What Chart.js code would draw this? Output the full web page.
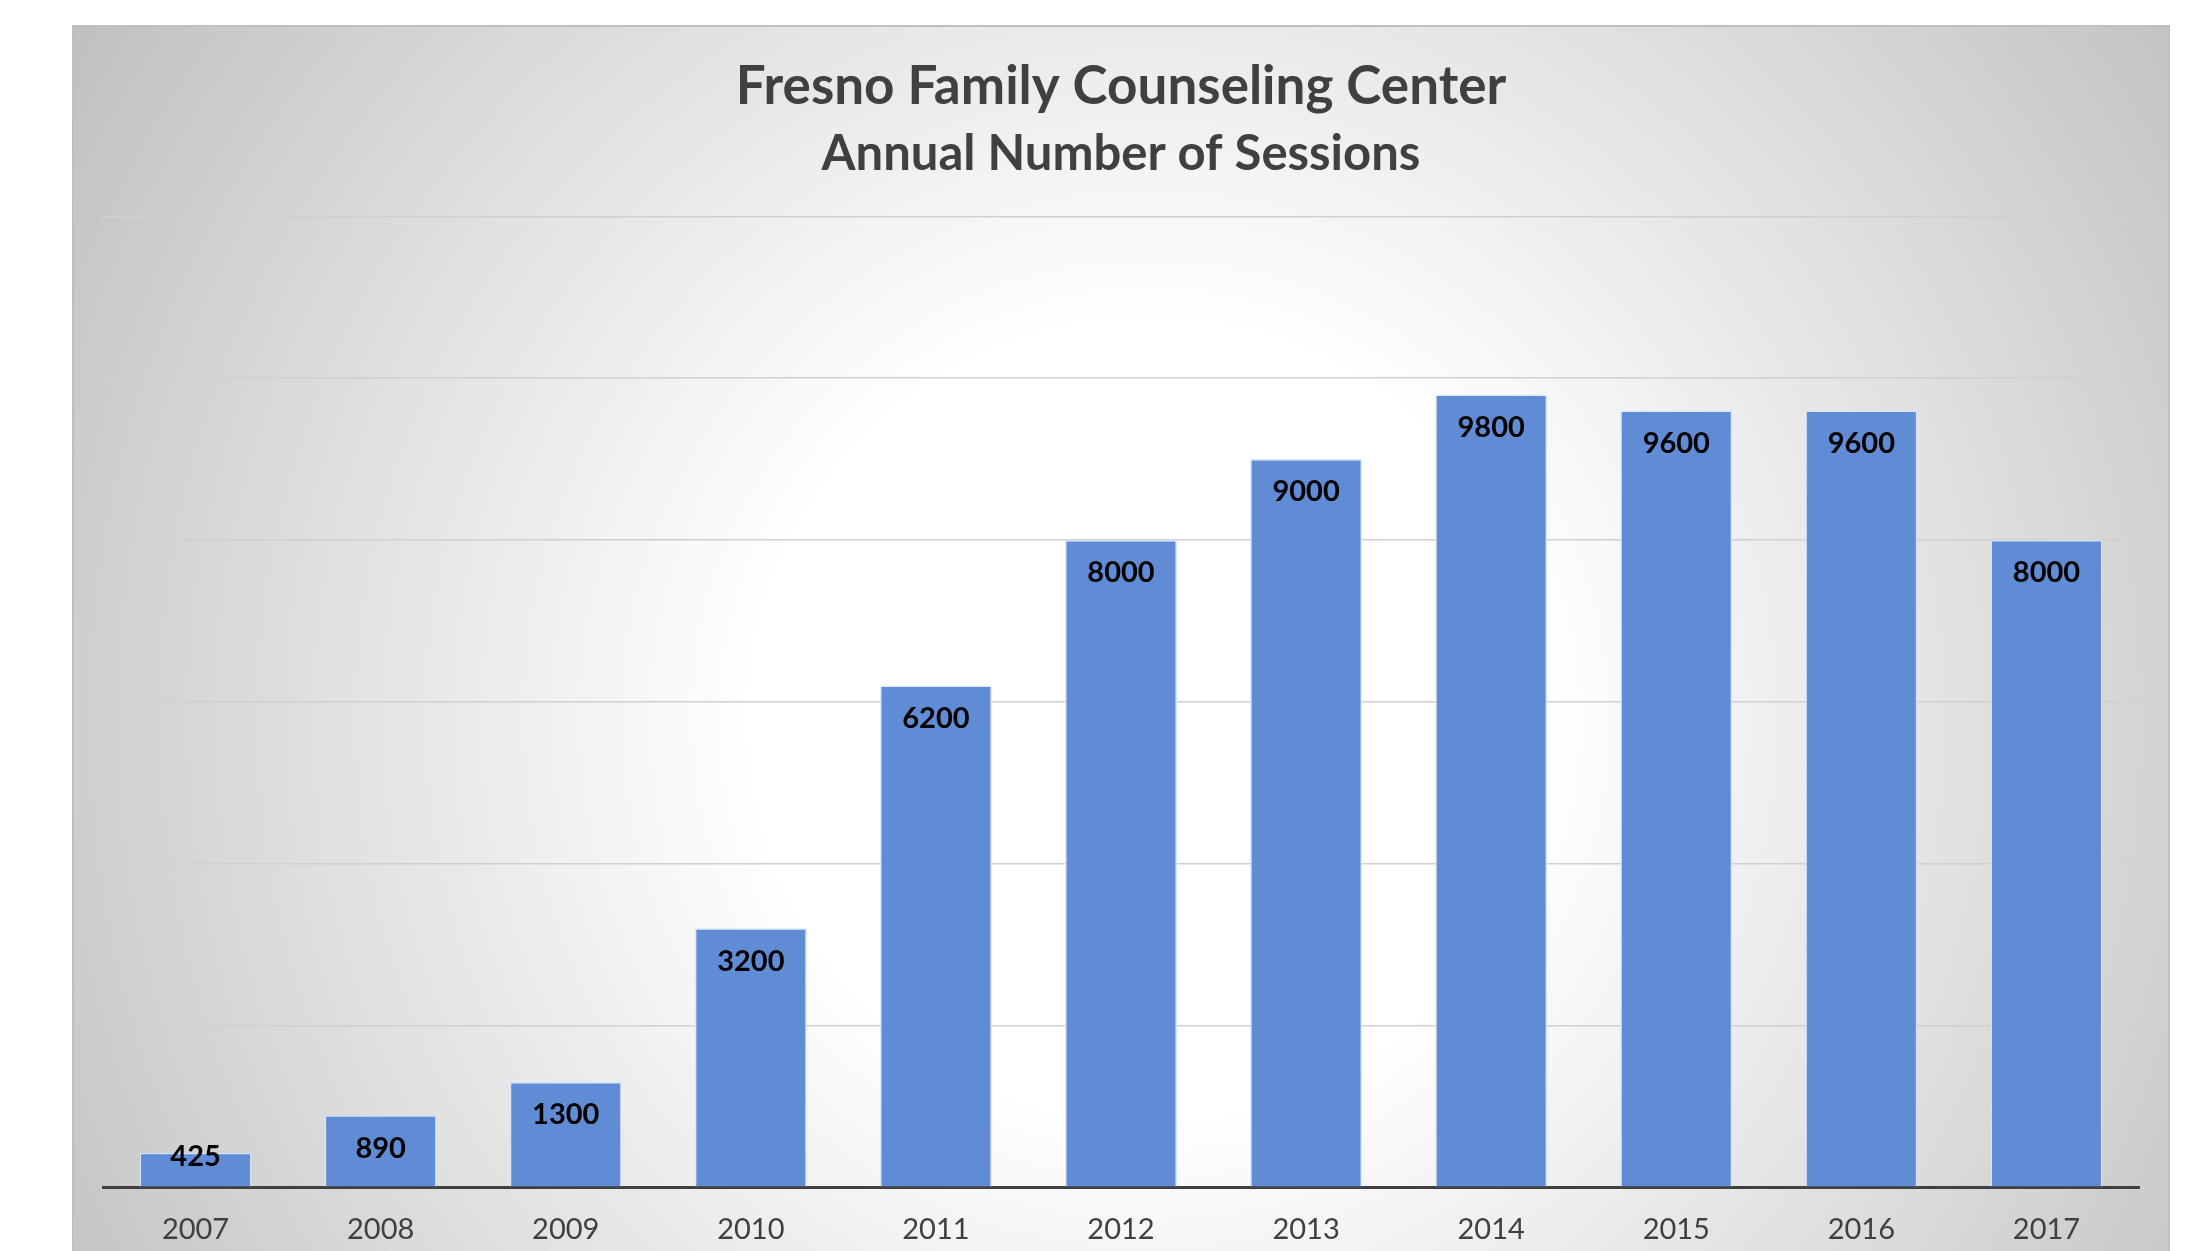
<!DOCTYPE html>
<html>
<head>
<meta charset="utf-8">
<script src="https://cdn.jsdelivr.net/npm/chart.js@4.4.1/dist/chart.umd.min.js"></script>
<style>
  html, body { margin: 0; padding: 0; background: #fff; }
  #wrap { width: 2198px; height: 1251px; position: relative; }
</style>
</head>
<body>
<div id="wrap"><canvas id="sessionsChart"></canvas></div>
<script>
// chart data
var years = ["2007", "2008", "2009", "2010", "2011", "2012", "2013", "2014", "2015", "2016", "2017"];
var sessions = [425, 890, 1300, 3200, 6200, 8000, 9000, 9800, 9600, 9600, 8000];
var titleText = "Fresno Family Counseling Center";
var subtitleText = "Annual Number of Sessions";
var yMax = 12000;
var yStep = 2000;

// grey panel with a soft radial light behind the plot
var panelBackground = {
  id: 'panelBackground',
  beforeDraw: function(chart) {
    var ctx = chart.ctx;
    ctx.save();
    ctx.fillStyle = '#ffffff';
    ctx.fillRect(0, 0, chart.width, chart.height);
    var grad = ctx.createRadialGradient(1150, 720, 0, 1150, 720, 1320);
    grad.addColorStop(0, '#ffffff');
    grad.addColorStop(0.3, '#ffffff');
    grad.addColorStop(1, '#bdbdbd');
    ctx.fillStyle = grad;
    ctx.fillRect(72, 25, 2098, 1240);
    ctx.strokeStyle = '#bfbfbf';
    ctx.lineWidth = 2;
    ctx.strokeRect(73, 26, 2096, 1240);
    ctx.restore();
  }
};

// value labels at the inside end of each bar
var barLabels = {
  id: 'barLabels',
  afterDatasetsDraw: function(chart) {
    var ctx = chart.ctx;
    var meta = chart.getDatasetMeta(0);
    ctx.save();
    ctx.font = 'bold 29px Lato, "Open Sans", sans-serif';
    ctx.fillStyle = '#000000';
    ctx.textAlign = 'center';
    ctx.textBaseline = 'middle';
    meta.data.forEach(function(bar, i) {
      var y = Math.min(bar.y + 33, bar.base - 30);
      ctx.fillText(String(sessions[i]), bar.x, y);
    });
    ctx.restore();
  }
};

var chart = new Chart(document.getElementById("sessionsChart").getContext("2d"), {
  type: 'bar',
  data: {
    labels: years,
    datasets: [{
      data: sessions,
      backgroundColor: '#608cd6',
      borderColor: 'rgba(215,228,250,0.9)',
      borderWidth: 1.5,
      barPercentage: 0.605,
      categoryPercentage: 1.0
    }]
  },
  options: {
    responsive: true,
    maintainAspectRatio: false,
    animation: false,
    layout: {
      padding: { left: 103, right: 59, top: 0, bottom: -21 }
    },
    plugins: {
      legend: { display: false },
      tooltip: { enabled: false },
      title: {
        display: true,
        text: titleText,
        color: '#404040',
        font: { family: 'Lato, "Open Sans", sans-serif', size: 53, weight: 'bold', lineHeight: 1.2 },
        padding: { top: 55, bottom: 0 }
      },
      subtitle: {
        display: true,
        text: subtitleText,
        color: '#404040',
        font: { family: 'Lato, "Open Sans", sans-serif', size: 49, weight: 'bold', lineHeight: 1.2 },
        padding: { top: 6, bottom: 33 }
      }
    },
    scales: {
      x: {
        grid: { display: false, drawTicks: false },
        border: { display: true, color: '#404040', width: 3 },
        ticks: {
          color: '#404040',
          padding: 25,
          font: { family: 'Lato, "Open Sans", sans-serif', size: 29 }
        }
      },
      y: {
        min: 0,
        max: yMax,
        ticks: { display: false, stepSize: yStep },
        border: { display: false },
        grid: { color: '#d0d0d0', lineWidth: 1.5, drawTicks: false }
      }
    }
  },
  plugins: [panelBackground, barLabels]
});
</script>
</body>
</html>
